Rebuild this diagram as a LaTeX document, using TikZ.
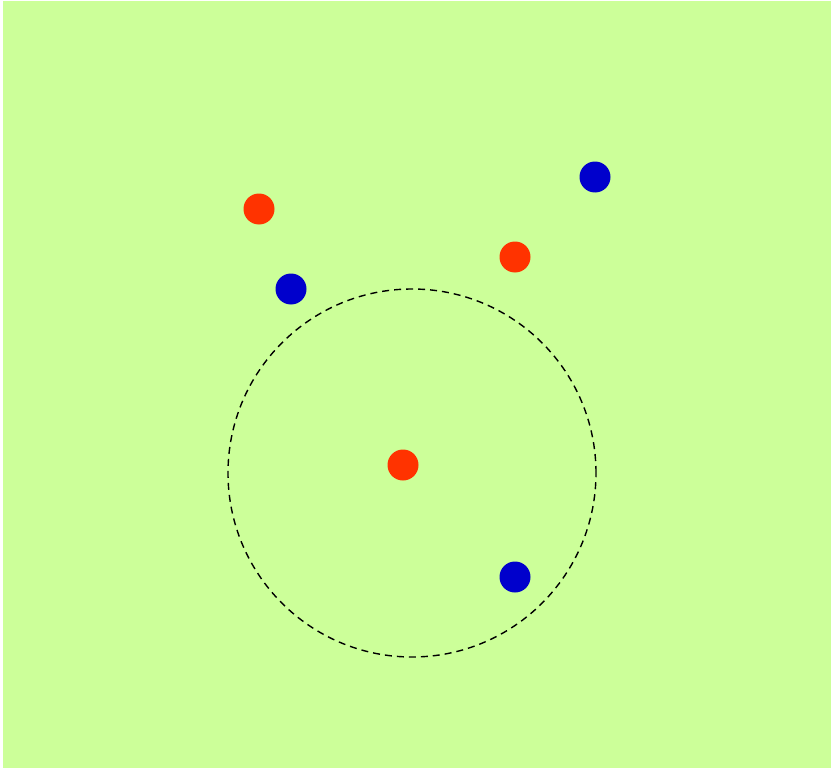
\documentclass[tikz,border=0pt]{standalone}
\definecolor{bggreen}{HTML}{CCFF99}
\definecolor{dotred}{HTML}{FF3300}
\definecolor{dotblue}{HTML}{0000CC}
\tikzset{
  reddot/.style={circle,fill=dotred,inner sep=0pt,minimum size=31pt},
  bluedot/.style={circle,fill=dotblue,inner sep=0pt,minimum size=31pt},
  ring/.style={circle,draw=black,line width=1.4pt,dash pattern=on 7pt off 5pt,inner sep=0pt,minimum size=368pt}
}
\begin{document}
\begin{tikzpicture}[x=1pt,y=-1pt]
\useasboundingbox (0,0) rectangle (831,768);
\fill[bggreen] (3,1) rectangle (831,768);
\node[ring] (ring) at (412,473) {};
\node[reddot] (r1) at (259,209) {};
\node[reddot] (r2) at (515,257) {};
\node[reddot] (r3) at (403,465) {};
\node[bluedot] (b1) at (595,177) {};
\node[bluedot] (b2) at (291,289) {};
\node[bluedot] (b3) at (515,577) {};
\end{tikzpicture}
\end{document}
